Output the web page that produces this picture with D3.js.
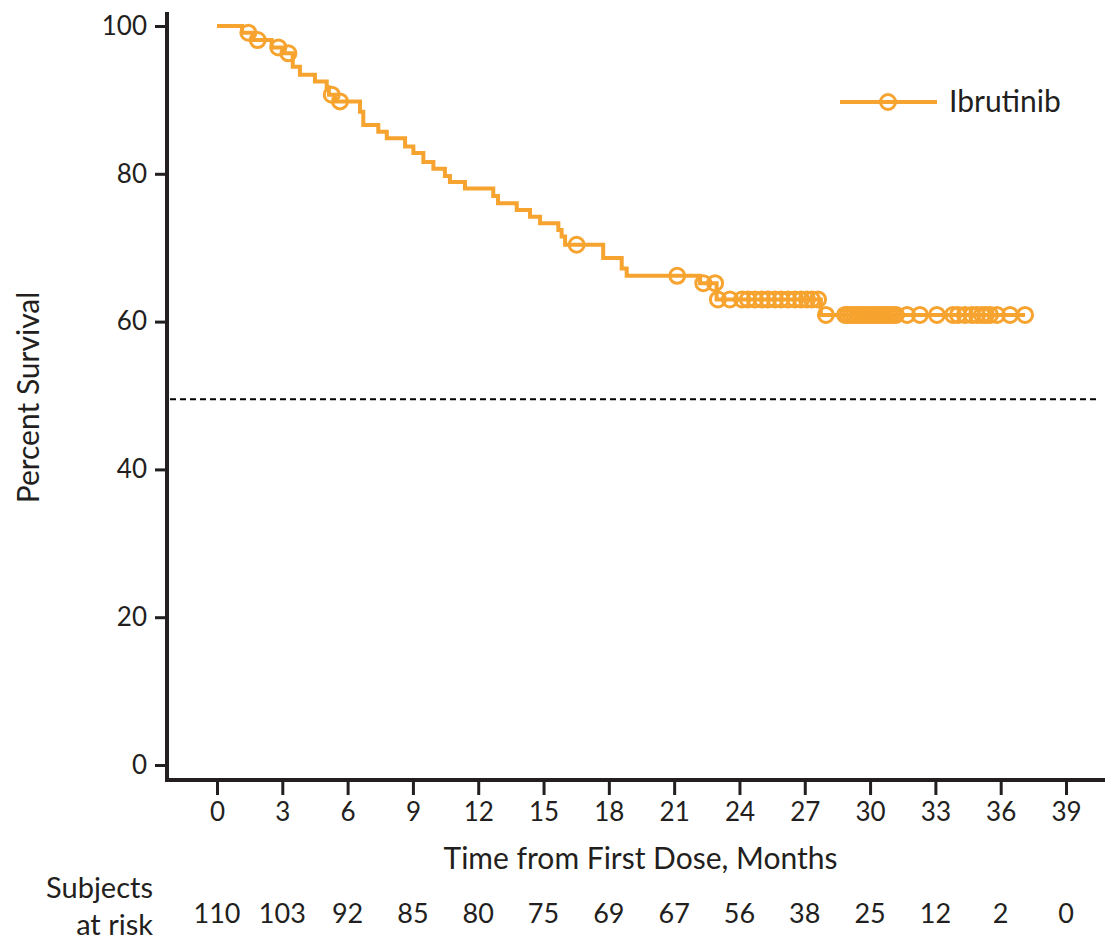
<!DOCTYPE html>
<html>
<head>
<meta charset="utf-8">
<script src="https://cdn.jsdelivr.net/npm/d3@7"></script>
<style>
  body { margin: 0; background: #fff; }
  text { font-family: Lato, "Noto Sans", sans-serif; fill: #231f20; }
</style>
</head>
<body>
<svg id="chart" width="1105" height="944"></svg>
<script>
// Kaplan-Meier steps
const stepMonths = [0, 1.15, 1.65, 2.51, 3.08, 3.48, 3.81, 4.50, 5.04, 5.14, 5.42, 6.57, 6.72, 7.41, 7.80, 8.64, 9.02, 9.48, 9.94, 10.47, 10.70, 11.39, 12.69, 12.91, 13.77, 14.38, 14.84, 15.68, 15.83, 15.99, 17.74, 18.59, 18.82, 22.19, 22.95, 27.74]
const stepSurvival = [100, 99.1, 98.1, 97.1, 96.3, 94.5, 93.4, 92.5, 91.7, 90.7, 89.8, 88.4, 86.6, 85.7, 84.8, 83.7, 82.8, 81.6, 80.7, 79.7, 78.9, 78.0, 77.0, 76.0, 75.1, 74.2, 73.3, 72.4, 71.5, 70.4, 68.6, 67.2, 66.2, 65.2, 63.0, 60.9]

// censored subjects (months)
const censorMonths = [1.44, 1.87, 2.82, 3.28, 5.27, 5.65, 16.52, 21.14, 22.34, 22.88,
    23.01, 23.56, 24.12, 24.39, 24.71, 25.03, 25.31, 25.63, 25.91,
    26.23, 26.55, 26.83, 27.10, 27.33, 27.61,
    27.97, 28.85, 28.98, 29.12, 29.26, 29.40, 29.54, 29.67, 29.81, 29.95, 30.09, 30.23,
    30.36, 30.50, 30.64, 30.78, 30.91, 31.05, 31.19, 31.70, 32.29, 33.07, 33.81, 34.04,
    34.36, 34.68, 34.91, 35.14, 35.32, 35.51, 35.83, 36.43, 37.12]

const xTicks = [0, 3, 6, 9, 12, 15, 18, 21, 24, 27, 30, 33, 36, 39]
const atRisk = [110, 103, 92, 85, 80, 75, 69, 67, 56, 38, 25, 12, 2, 0]
const yTicks = [0, 20, 40, 60, 80, 100]
const medianLine = 49.5
const seriesName = 'Ibrutinib'

const orange = '#f6a32f'
const ink = '#231f20'

const svg = d3.select('#chart')

const x = d3.scaleLinear().domain([0, 39]).range([217, 1066])
const y = d3.scaleLinear().domain([0, 100]).range([765, 26])

const survivalAt = (t) => stepSurvival[d3.bisectRight(stepMonths, t) - 1]

// axes
const yAxis = svg.append('g')
    .attr('transform', 'translate(167,0)')
    .call(d3.axisLeft(y).tickValues(yTicks).tickSize(12).tickSizeOuter(0).tickPadding(8))
yAxis.select('.domain').remove()
yAxis.selectAll('.tick line').attr('stroke', ink).attr('stroke-width', 3)
yAxis.selectAll('.tick text').style('font-size', '26px').attr('fill', ink)

const xAxis = svg.append('g')
    .attr('transform', 'translate(0,782)')
    .call(d3.axisBottom(x).tickValues(xTicks).tickSize(13).tickSizeOuter(0).tickPadding(8))
xAxis.select('.domain').remove()
xAxis.selectAll('.tick line').attr('stroke', ink).attr('stroke-width', 3)
xAxis.selectAll('.tick text').style('font-size', '26px').attr('fill', ink)

svg.append('line')
    .attr('x1', 167).attr('x2', 167)
    .attr('y1', 12).attr('y2', 782)
    .attr('stroke', ink).attr('stroke-width', 4)
svg.append('line')
    .attr('x1', 165).attr('x2', 1105)
    .attr('y1', 780).attr('y2', 780)
    .attr('stroke', ink).attr('stroke-width', 4)

// axis titles
svg.append('text')
    .attr('transform', `translate(39,${y(50) + 2}) rotate(-90)`)
    .attr('text-anchor', 'middle')
    .style('font-size', '30px')
    .text('Percent Survival')

svg.append('text')
    .attr('x', x(19.5) - 1).attr('y', 869)
    .attr('text-anchor', 'middle')
    .style('font-size', '30px')
    .text('Time from First Dose, Months')

// median reference
svg.append('line')
    .attr('x1', 170).attr('x2', 1098)
    .attr('y1', y(medianLine)).attr('y2', y(medianLine))
    .attr('stroke', '#000').attr('stroke-width', 2)
    .attr('stroke-dasharray', '6,4')

// survival curve
const lastT = d3.max(censorMonths)
const pts = stepMonths.map((t, i) => [t, stepSurvival[i]])
pts.push([lastT, survivalAt(lastT)])

const line = d3.line()
    .x(d => x(d[0]))
    .y(d => y(d[1]))
    .curve(d3.curveStepAfter)

svg.append('path')
    .datum(pts)
    .attr('fill', 'none')
    .attr('stroke', orange)
    .attr('stroke-width', 4)
    .attr('d', line)

svg.append('g')
    .selectAll('circle')
    .data(censorMonths)
    .enter()
    .append('circle')
    .attr('cx', d => x(d))
    .attr('cy', d => y(survivalAt(d)))
    .attr('r', 7.5)
    .attr('fill', 'none')
    .attr('stroke', orange)
    .attr('stroke-width', 3)

// legend
const legend = svg.append('g')
legend.append('line')
    .attr('x1', 840).attr('x2', 937)
    .attr('y1', 102).attr('y2', 102)
    .attr('stroke', orange).attr('stroke-width', 4)
legend.append('circle')
    .attr('cx', 888).attr('cy', 102).attr('r', 7.5)
    .attr('fill', 'none').attr('stroke', orange).attr('stroke-width', 3)
legend.append('text')
    .attr('x', 949).attr('y', 112)
    .style('font-size', '30px')
    .text(seriesName)

// number at risk
svg.append('text')
    .attr('x', 153).attr('y', 898)
    .attr('text-anchor', 'end')
    .style('font-size', '29px')
    .text('Subjects')
svg.append('text')
    .attr('x', 153).attr('y', 935)
    .attr('text-anchor', 'end')
    .style('font-size', '29px')
    .text('at risk')

svg.append('g')
    .selectAll('text')
    .data(atRisk)
    .enter()
    .append('text')
    .attr('x', (d, i) => x(xTicks[i]))
    .attr('y', 923)
    .attr('text-anchor', 'middle')
    .style('font-size', '27px')
    .text(d => d)
</script>
</body>
</html>
